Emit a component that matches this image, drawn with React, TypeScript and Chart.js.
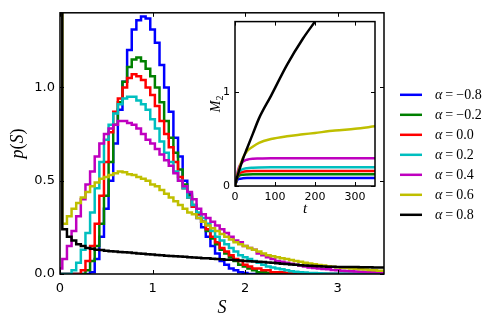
import React, { useEffect, useRef } from "react";
import { Chart, registerables } from "chart.js";

Chart.register(...registerables);

// ---------- data ----------
const BIN_WIDTH = 0.05; // histogram bin width in S
const S_MAX = 3.5;
const P_MAX = 1.4;
const S_TICKS = [0, 1, 2, 3];
const P_TICKS = [0, 0.5, 1.0];

const T_MAX = 350;
const M_MAX = 1.75;
const T_TICKS = [0, 100, 200, 300];
const M_TICKS = [0, 1];

const ALPHA_LABELS = ["−0.8", "−0.2", "0.0", "0.2", "0.4", "0.6", "0.8"];
const COLORS = ["#0000ff", "#008000", "#ff0000", "#00bfbf", "#bf00bf", "#bfbf00", "#000000"];

// p(S) histograms, bins centred at S = 0, 0.05, 0.10, ... 3.50
const P_ALPHA_M08 = [
  0, 0, 0, 0, 0, 0, 0, 0.01, 0.08, 0.2, 0.35, 0.5, 0.7, 0.88, 1.03, 1.2, 1.31, 1.36, 1.38, 1.37,
  1.31, 1.24, 1.12, 1.0, 0.87, 0.73, 0.63, 0.5, 0.43, 0.36, 0.3, 0.25, 0.2, 0.15, 0.11, 0.07, 0.05, 0.03, 0.02, 0.01,
  0.005, 0, 0, 0, 0, 0, 0, 0, 0, 0, 0, 0, 0, 0, 0, 0, 0, 0, 0, 0,
  0, 0, 0, 0, 0, 0, 0, 0, 0, 0, 0,
];
const P_ALPHA_M02 = [
  0, 0, 0, 0, 0, 0, 0.02, 0.07, 0.15, 0.27, 0.42, 0.6, 0.8, 0.92, 1.03, 1.11, 1.15, 1.16, 1.14, 1.1,
  1.06, 1.0, 0.92, 0.82, 0.73, 0.65, 0.56, 0.48, 0.42, 0.37, 0.32, 0.28, 0.23, 0.19, 0.16, 0.13, 0.11, 0.09, 0.07, 0.05,
  0.04, 0.03, 0.02, 0.01, 0.01, 0.005, 0, 0, 0, 0, 0, 0, 0, 0, 0, 0, 0, 0, 0, 0,
  0, 0, 0, 0, 0, 0, 0, 0, 0, 0, 0,
];
const P_ALPHA_00 = [
  0, 0, 0, 0, 0, 0.02, 0.07, 0.15, 0.27, 0.42, 0.6, 0.76, 0.87, 0.94, 1.0, 1.05, 1.07, 1.06, 1.04, 1.0,
  0.96, 0.9, 0.82, 0.75, 0.68, 0.6, 0.52, 0.46, 0.41, 0.36, 0.32, 0.28, 0.24, 0.2, 0.17, 0.14, 0.12, 0.1, 0.08, 0.07,
  0.05, 0.04, 0.03, 0.03, 0.02, 0.02, 0.01, 0.01, 0.01, 0.005, 0.003, 0.002, 0, 0, 0, 0, 0, 0, 0, 0,
  0, 0, 0, 0, 0, 0, 0, 0, 0, 0, 0,
];
const P_ALPHA_02 = [
  0, 0, 0, 0.02, 0.06, 0.13, 0.22, 0.33, 0.46, 0.6, 0.72, 0.8, 0.86, 0.91, 0.94, 0.95, 0.95, 0.93, 0.91, 0.88,
  0.83, 0.78, 0.71, 0.65, 0.6, 0.55, 0.5, 0.46, 0.41, 0.37, 0.33, 0.3, 0.27, 0.23, 0.2, 0.18, 0.16, 0.14, 0.12, 0.1,
  0.09, 0.08, 0.07, 0.06, 0.05, 0.04, 0.035, 0.03, 0.025, 0.02, 0.015, 0.012, 0.01, 0.008, 0.006, 0.005, 0.004, 0.003, 0.002, 0.002,
  0.001, 0.001, 0.001, 0.001, 0, 0, 0, 0, 0, 0, 0,
];
const P_ALPHA_04 = [
  0.03, 0.08, 0.15, 0.23, 0.31, 0.4, 0.48, 0.55, 0.63, 0.7, 0.75, 0.78, 0.8, 0.82, 0.82, 0.81, 0.8, 0.78, 0.75, 0.72,
  0.7, 0.67, 0.64, 0.61, 0.58, 0.54, 0.5, 0.47, 0.44, 0.4, 0.35, 0.32, 0.3, 0.28, 0.26, 0.24, 0.22, 0.2, 0.18, 0.17,
  0.15, 0.14, 0.13, 0.11, 0.1, 0.09, 0.08, 0.07, 0.065, 0.06, 0.055, 0.05, 0.045, 0.04, 0.035, 0.032, 0.03, 0.027, 0.025, 0.022,
  0.02, 0.018, 0.016, 0.015, 0.013, 0.012, 0.011, 0.01, 0.009, 0.008, 0.007,
];
const P_ALPHA_06 = [
  3.0, 0.27, 0.31, 0.35, 0.38, 0.41, 0.44, 0.47, 0.49, 0.51, 0.52, 0.53, 0.54, 0.55, 0.545, 0.535, 0.53, 0.52, 0.51, 0.5,
  0.48, 0.47, 0.45, 0.43, 0.41, 0.39, 0.37, 0.35, 0.33, 0.32, 0.3, 0.28, 0.26, 0.245, 0.23, 0.215, 0.2, 0.185, 0.17, 0.16,
  0.15, 0.14, 0.13, 0.12, 0.11, 0.1, 0.095, 0.09, 0.085, 0.08, 0.075, 0.07, 0.065, 0.06, 0.056, 0.052, 0.048, 0.045, 0.042, 0.039,
  0.036, 0.034, 0.032, 0.03, 0.028, 0.026, 0.024, 0.022, 0.02, 0.018, 0.017,
];
const P_ALPHA_08 = [
  3.0, 0.24, 0.2, 0.18, 0.16, 0.15, 0.14, 0.135, 0.13, 0.128, 0.125, 0.122, 0.12, 0.118, 0.117, 0.115, 0.113, 0.11, 0.108, 0.106,
  0.104, 0.102, 0.1, 0.098, 0.097, 0.095, 0.094, 0.092, 0.09, 0.089, 0.087, 0.085, 0.084, 0.082, 0.08, 0.079, 0.077, 0.076, 0.074, 0.072,
  0.07, 0.069, 0.067, 0.066, 0.064, 0.062, 0.06, 0.058, 0.055, 0.053, 0.051, 0.049, 0.047, 0.046, 0.044, 0.043, 0.041, 0.04, 0.039, 0.039,
  0.038, 0.038, 0.037, 0.037, 0.037, 0.036, 0.036, 0.036, 0.035, 0.035, 0.035,
];

// inset: M2(t)
const T_INSET = [0, 5, 10, 20, 30, 45, 60, 90, 130, 170, 200, 250, 300, 350];
const M2_ALPHA_M08 = [0, 0.06, 0.075, 0.082, 0.085, 0.085, 0.085, 0.085, 0.085, 0.085, 0.085, 0.085, 0.085, 0.085];
const M2_ALPHA_M02 = [0, 0.08, 0.11, 0.12, 0.123, 0.125, 0.125, 0.125, 0.125, 0.125, 0.125, 0.125, 0.125, 0.125];
const M2_ALPHA_00 = [0, 0.09, 0.13, 0.15, 0.157, 0.16, 0.16, 0.16, 0.16, 0.16, 0.16, 0.16, 0.16, 0.16];
const M2_ALPHA_02 = [0, 0.1, 0.15, 0.18, 0.19, 0.195, 0.198, 0.2, 0.2, 0.2, 0.2, 0.2, 0.2, 0.2];
const M2_ALPHA_04 = [0, 0.12, 0.2, 0.26, 0.28, 0.29, 0.292, 0.295, 0.295, 0.295, 0.295, 0.295, 0.295, 0.295];
const M2_ALPHA_06 = [0, 0.1, 0.18, 0.3, 0.37, 0.42, 0.46, 0.5, 0.53, 0.55, 0.565, 0.59, 0.61, 0.635];
const M2_ALPHA_08 = [0, 0.09, 0.16, 0.29, 0.4, 0.56, 0.72, 0.96, 1.29, 1.57, 1.75, null, null, null];

const HISTS = [P_ALPHA_M08, P_ALPHA_M02, P_ALPHA_00, P_ALPHA_02, P_ALPHA_04, P_ALPHA_06, P_ALPHA_08];
const M2S = [M2_ALPHA_M08, M2_ALPHA_M02, M2_ALPHA_00, M2_ALPHA_02, M2_ALPHA_04, M2_ALPHA_06, M2_ALPHA_08];

// ---------- helpers ----------
const SERIF = '"Liberation Serif", "DejaVu Serif", serif';
const SANS = '"DejaVu Sans", sans-serif';
const LINE_W = 2.5;

function histPoints(values: number[]) {
  const pts: { x: number; y: number }[] = [];
  pts.push({ x: -BIN_WIDTH / 2, y: 0 });
  values.forEach((v, i) => pts.push({ x: (i - 0.5) * BIN_WIDTH, y: v }));
  const endX = (values.length - 0.5) * BIN_WIDTH;
  pts.push({ x: endX, y: values[values.length - 1] });
  pts.push({ x: endX, y: 0 });
  return pts;
}

type Part = [string, boolean, number]; // text, italic, size
function drawParts(ctx: CanvasRenderingContext2D, parts: Part[], x: number, y: number, center: boolean, subIdx = -1, subDy = 0) {
  let total = 0;
  const widths = parts.map(([t, it, sz]) => {
    ctx.font = `${it ? "italic " : ""}${sz}px ${SERIF}`;
    const w = ctx.measureText(t).width;
    total += w;
    return w;
  });
  let cx = center ? x - total / 2 : x;
  parts.forEach(([t, it, sz], i) => {
    ctx.font = `${it ? "italic " : ""}${sz}px ${SERIF}`;
    ctx.fillText(t, cx, i === subIdx ? y + subDy : y);
    cx += widths[i];
  });
}

function axesDecor(xTicks: number[], yTicks: number[], lw: number) {
  return {
    id: "axesDecor",
    beforeDatasetsDraw(chart: any) {
      const { ctx, chartArea: a } = chart;
      ctx.save();
      ctx.fillStyle = "#ffffff";
      ctx.fillRect(a.left, a.top, a.right - a.left, a.bottom - a.top);
      ctx.restore();
    },
    afterDatasetsDraw(chart: any) {
      const { ctx, chartArea: a, scales } = chart;
      ctx.save();
      ctx.strokeStyle = "#000";
      ctx.lineWidth = 1;
      const L = 4;
      ctx.beginPath();
      for (const v of xTicks) {
        const x = Math.round(scales.x.getPixelForValue(v)) + 0.5;
        ctx.moveTo(x, a.bottom);
        ctx.lineTo(x, a.bottom - L);
        ctx.moveTo(x, a.top);
        ctx.lineTo(x, a.top + L);
      }
      for (const v of yTicks) {
        const y = Math.round(scales.y.getPixelForValue(v)) + 0.5;
        ctx.moveTo(a.left, y);
        ctx.lineTo(a.left + L, y);
        ctx.moveTo(a.right, y);
        ctx.lineTo(a.right - L, y);
      }
      ctx.stroke();
      ctx.lineWidth = lw;
      ctx.strokeRect(a.left, a.top, a.right - a.left, a.bottom - a.top);
      ctx.restore();
    },
  };
}

const mainLabels = {
  id: "mainLabels",
  afterDraw(chart: any) {
    const { ctx, chartArea: a } = chart;
    ctx.save();
    ctx.fillStyle = "#000";
    ctx.textBaseline = "alphabetic";
    ctx.textAlign = "left";
    // x label
    drawParts(ctx, [["S", true, 18]], (a.left + a.right) / 2, a.bottom + 39, true);
    // y label
    ctx.save();
    ctx.translate(a.left - 37, (a.top + a.bottom) / 2);
    ctx.rotate(-Math.PI / 2);
    drawParts(ctx, [["p", true, 18], ["(", false, 18], ["S", true, 18], [")", false, 18]], 0, 0, true);
    ctx.restore();
    // legend
    ALPHA_LABELS.forEach((lab, i) => {
      const y = a.top + 82 + 20 * i;
      ctx.strokeStyle = COLORS[i];
      ctx.lineWidth = LINE_W;
      ctx.beginPath();
      ctx.moveTo(a.right + 16, y);
      ctx.lineTo(a.right + 38, y);
      ctx.stroke();
      ctx.fillStyle = "#000";
      const x0 = a.right + 51;
      ctx.font = `italic 14px ${SERIF}`;
      ctx.fillText("α", x0, y + 4.5);
      let cx = x0 + ctx.measureText("α").width + 3;
      ctx.font = `14px ${SERIF}`;
      ctx.fillText("=", cx, y + 4.5);
      cx += ctx.measureText("=").width + 3;
      ctx.fillText(lab, cx, y + 4.5);
    });
    ctx.restore();
  },
};

const insetLabels = {
  id: "insetLabels",
  afterDraw(chart: any) {
    const { ctx, chartArea: a } = chart;
    ctx.save();
    ctx.fillStyle = "#000";
    ctx.textBaseline = "alphabetic";
    ctx.textAlign = "left";
    drawParts(ctx, [["t", true, 15]], (a.left + a.right) / 2, a.bottom + 27, true);
    ctx.save();
    ctx.translate(a.left - 15, (a.top + a.bottom) / 2);
    ctx.rotate(-Math.PI / 2);
    drawParts(ctx, [["M", true, 14], ["2", false, 10]], 0, 0, true, 1, 3);
    ctx.restore();
    ctx.restore();
  },
};

export default function App() {
  const mainRef = useRef<HTMLCanvasElement>(null);
  const insetRef = useRef<HTMLCanvasElement>(null);

  useEffect(() => {
    const main = new Chart(mainRef.current!, {
      type: "line",
      data: {
        datasets: HISTS.map((h, i) => ({
          label: ALPHA_LABELS[i],
          data: histPoints(h),
          borderColor: COLORS[i],
          backgroundColor: COLORS[i],
          borderWidth: LINE_W,
          stepped: true,
          pointRadius: 0,
          fill: false,
          borderJoinStyle: "miter",
          order: HISTS.length - 1 - i,
        })),
      } as any,
      options: {
        animation: false,
        responsive: false,
        events: [],
        layout: { padding: { left: 0, right: 120, top: 10, bottom: 0 } },
        plugins: { legend: { display: false }, tooltip: { enabled: false } },
        scales: {
          x: {
            type: "linear",
            min: 0,
            max: S_MAX,
            grid: { display: false, drawTicks: false },
            border: { display: false },
            afterBuildTicks: (s: any) => {
              s.ticks = S_TICKS.map((v) => ({ value: v }));
            },
            afterFit: (s: any) => {
              s.height = 53;
            },
            ticks: {
              callback: (v: any) => String(v),
              font: { family: SANS, size: 13 },
              color: "#000",
              padding: 7,
              maxRotation: 0,
              autoSkip: false,
            },
          },
          y: {
            type: "linear",
            min: 0,
            max: P_MAX,
            grid: { display: false, drawTicks: false },
            border: { display: false },
            afterBuildTicks: (s: any) => {
              s.ticks = P_TICKS.map((v) => ({ value: v }));
            },
            afterFit: (s: any) => {
              s.width = 60;
            },
            ticks: {
              callback: (v: any) => Number(v).toFixed(1),
              font: { family: SANS, size: 13 },
              color: "#000",
              padding: 5,
              autoSkip: false,
            },
          },
        },
      } as any,
      plugins: [axesDecor(S_TICKS, P_TICKS, 1.5), mainLabels],
    });

    const inset = new Chart(insetRef.current!, {
      type: "line",
      data: {
        datasets: M2S.map((m, i) => ({
          label: ALPHA_LABELS[i],
          data: T_INSET.map((t, j) => ({ x: t, y: m[j] })),
          borderColor: COLORS[i],
          borderWidth: LINE_W,
          pointRadius: 0,
          fill: false,
          cubicInterpolationMode: "monotone",
          spanGaps: false,
          order: M2S.length - 1 - i,
        })),
      } as any,
      options: {
        animation: false,
        responsive: false,
        events: [],
        layout: { padding: { left: 0, right: 15, top: 10, bottom: 0 } },
        plugins: { legend: { display: false }, tooltip: { enabled: false } },
        scales: {
          x: {
            type: "linear",
            min: 0,
            max: T_MAX,
            grid: { display: false, drawTicks: false },
            border: { display: false },
            afterBuildTicks: (s: any) => {
              s.ticks = T_TICKS.map((v) => ({ value: v }));
            },
            afterFit: (s: any) => {
              s.height = 39;
            },
            ticks: {
              callback: (v: any) => String(v),
              font: { family: SANS, size: 11 },
              color: "#000",
              padding: 5,
              maxRotation: 0,
              autoSkip: false,
            },
          },
          y: {
            type: "linear",
            min: 0,
            max: M_MAX,
            grid: { display: false, drawTicks: false },
            border: { display: false },
            afterBuildTicks: (s: any) => {
              s.ticks = M_TICKS.map((v) => ({ value: v }));
            },
            afterFit: (s: any) => {
              s.width = 45;
            },
            ticks: {
              callback: (v: any) => String(v),
              font: { family: SANS, size: 11 },
              color: "#000",
              padding: 5,
              autoSkip: false,
            },
          },
        },
      } as any,
      plugins: [axesDecor(T_TICKS, M_TICKS, 1.5), insetLabels],
    });

    return () => {
      main.destroy();
      inset.destroy();
    };
  }, []);

  return (
    <div style={{ position: "fixed", left: 0, top: 0, width: 504, height: 327, background: "#fff" }}>
      <canvas ref={mainRef} width={504} height={327} style={{ position: "absolute", left: 0, top: 0 }} />
      <canvas ref={insetRef} width={200} height={215} style={{ position: "absolute", left: 190, top: 10 }} />
    </div>
  );
}
